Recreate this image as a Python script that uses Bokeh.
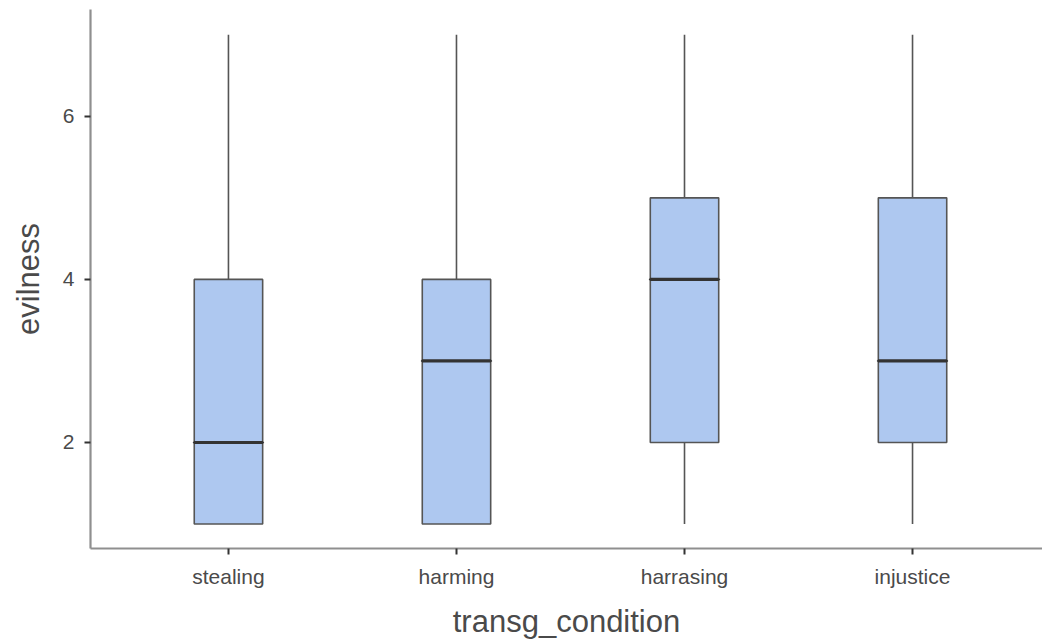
from bokeh.plotting import figure
from bokeh.models import Range1d, FixedTicker, ColumnDataSource
from bokeh.embed import file_html
from bokeh.resources import INLINE

# Box-plot summaries of evilness ratings per transgression condition
categories = ["stealing", "harming", "harrasing", "injustice"]
positions = [1, 2, 3, 4]
lower_whisker = [1, 1, 1, 1]
q1 = [1, 1, 2, 2]
median = [2, 3, 4, 3]
q3 = [4, 4, 5, 5]
upper_whisker = [7, 7, 7, 7]
y_ticks = [2, 4, 6]

box_width = 0.30

src = ColumnDataSource(dict(x=positions, lw=lower_whisker, q1=q1, med=median,
                            q3=q3, uw=upper_whisker))

p = figure(width=1042, height=643, output_backend="svg", toolbar_location=None,
           x_range=Range1d(0.395, 4.57), y_range=Range1d(0.7, 7.31),
           min_border_left=90, min_border_right=0, min_border_top=9,
           min_border_bottom=95)

p.background_fill_color = "white"
p.border_fill_color = "white"
p.outline_line_color = None
p.grid.visible = False

# whiskers
p.segment(x0="x", y0="q3", x1="x", y1="uw", source=src, line_color="#555555", line_width=1.6)
p.segment(x0="x", y0="lw", x1="x", y1="q1", source=src, line_color="#555555", line_width=1.6)
# boxes
p.vbar(x="x", width=box_width, bottom="q1", top="q3", source=src,
       fill_color="#aec8f0", line_color="#555555", line_width=1.6)
# medians
p.rect(x="x", y="med", width=box_width, height=0.0001, source=src,
       line_color="#333333", line_width=3.2, fill_color=None)

for ax in (p.xaxis[0], p.yaxis[0]):
    ax.axis_line_color = "#8f8f8f"
    ax.axis_line_width = 2.2
    ax.major_tick_line_color = "#333333"
    ax.major_tick_line_width = 2
    ax.major_tick_in = 0
    ax.major_tick_out = 6
    ax.minor_tick_line_color = None
    ax.major_label_text_font = "Liberation Sans"
    ax.major_label_text_font_size = "21px"
    ax.major_label_text_color = "#4a4a4a"
    ax.axis_label_text_font = "Liberation Sans"
    ax.axis_label_text_font_size = "31px"
    ax.axis_label_text_font_style = "normal"
    ax.axis_label_text_color = "#4a4a4a"

p.xaxis.ticker = FixedTicker(ticks=positions)
p.xaxis.major_label_overrides = {pos: name for pos, name in zip(positions, categories)}
p.xaxis.axis_label = "transg_condition"
p.xaxis.major_label_standoff = 10
p.xaxis.axis_label_standoff = 13

p.yaxis.ticker = FixedTicker(ticks=y_ticks)
p.yaxis.axis_label = "evilness"
p.yaxis.major_label_standoff = 10
p.yaxis.axis_label_standoff = 14

open("out.html", "w").write(file_html(p, INLINE))
